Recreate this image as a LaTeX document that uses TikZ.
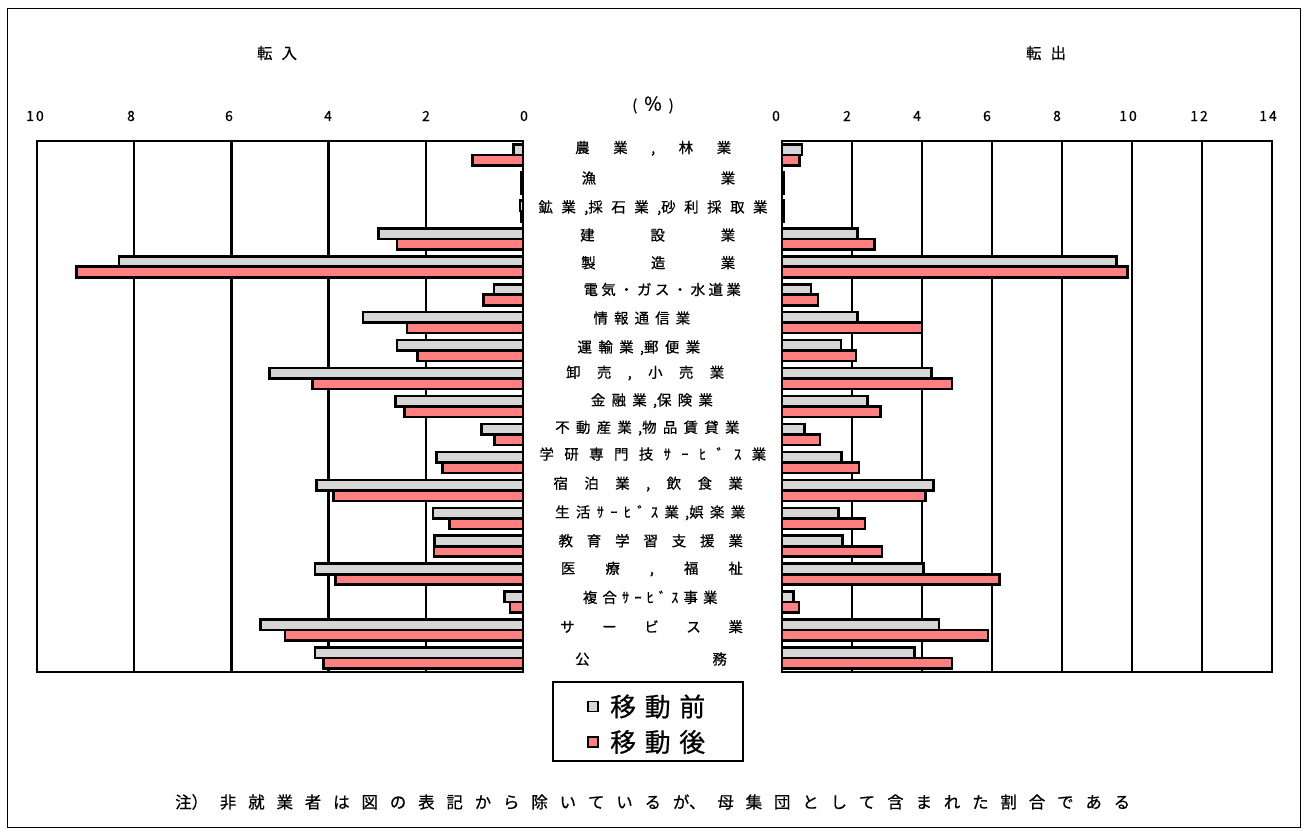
\documentclass[tikz,border=0pt]{standalone}
\usepackage{fontspec}
\setmainfont{Noto Sans CJK JP}[FakeBold=0.6]
\ExplSyntaxOn
\NewDocumentCommand\spreadbox{m m}{\makebox[#1][s]{\tl_map_inline:nn{#2}{##1\hfil}\unskip}}
\ExplSyntaxOff
\definecolor{pregray}{RGB}{214,214,214}
\definecolor{postred}{RGB}{255,128,128}
\tikzset{
  barpre/.style={draw=black, line width=2.6bp, fill=pregray},
  barpost/.style={draw=black, line width=2.6bp, fill=postred},
  gridline/.style={draw=black, line width=2.4bp},
  lab/.style={inner sep=0pt, anchor=west, font=\fontsize{14.5}{15}\selectfont},
  tick/.style={inner sep=0pt, anchor=center, font=\fontsize{14}{14}\selectfont},
  ttl/.style={inner sep=0pt, anchor=center, font=\fontsize{15.5}{16}\selectfont},
}
\begin{document}
\begin{tikzpicture}[x=1bp,y=-1bp]
\useasboundingbox (0,0) rectangle (1308,837);
\fill[white] (0,0) rectangle (1308,837);
\draw[line width=1.6bp] (7.5,8.5) rectangle (1300.5,827.5);

% titles
\node[ttl] (tin) at (277,53) {\spreadbox{40bp}{転入}};
\node[ttl] (tout) at (1046,53) {\spreadbox{40bp}{転出}};
\node[inner sep=0pt] (pct) at (653,105) {{\fontsize{15}{15}\selectfont (}\hspace{7bp}{\fontsize{19}{19}\selectfont\%}\hspace{7bp}{\fontsize{15}{15}\selectfont )}};

% tick labels left
\node[tick] (tl10) at (35,116) {1\kern2bp 0};
\node[tick] (tl8) at (131,116) {8};
\node[tick] (tl6) at (229,116) {6};
\node[tick] (tl4) at (328,116) {4};
\node[tick] (tl2) at (426,116) {2};
\node[tick] (tl0) at (524,116) {0};
% tick labels right
\node[tick] (tr0) at (776,116) {0};
\node[tick] (tr2) at (847,116) {2};
\node[tick] (tr4) at (917,116) {4};
\node[tick] (tr6) at (987,116) {6};
\node[tick] (tr8) at (1057,116) {8};
\node[tick] (tr10) at (1128,116) {1\kern2bp 0};
\node[tick] (tr12) at (1199,116) {1\kern2bp 2};
\node[tick] (tr14) at (1268,116) {1\kern2bp 4};

% grid lines
\foreach \v in {2,4,6,8} \draw[gridline] (523-\v*48.6,141) -- (523-\v*48.6,672);
\foreach \v in {2,4,6,8,10,12} \draw[gridline] (782+\v*35,141) -- (782+\v*35,672);

% bars
\foreach \pa/\pb/\qa/\qb [count=\i] in {
 0.19/1.04/0.57/0.50,
 0.03/0.04/0.04/0.04,
 0.06/0.04/0.05/0.04,
 2.97/2.59/2.16/2.64,
 8.31/9.19/9.55/9.87,
 0.60/0.81/0.83/1.03,
 3.29/2.39/2.16/4.00,
 2.59/2.17/1.68/2.11,
 5.22/4.33/4.27/4.86,
 2.62/2.44/2.44/2.82,
 0.85/0.59/0.64/1.08,
 1.78/1.66/1.70/2.20,
 4.25/3.90/4.33/4.10,
 1.85/1.51/1.61/2.37,
 1.82/1.83/1.73/2.86,
 4.28/3.86/4.05/6.21,
 0.38/0.27/0.32/0.48,
 5.40/4.90/4.48/5.89,
 4.28/4.10/3.79/4.86}{
  \pgfmathsetmacro\cy{141+(\i-0.5)*27.95}
  \draw[barpre] (523-\pa*48.6,\cy-10.5) rectangle (523,\cy);
  \draw[barpost] (523-\pb*48.6,\cy) rectangle (523,\cy+10.5);
  \draw[barpre] (782,\cy-10.5) rectangle (782+\qa*35,\cy);
  \draw[barpost] (782,\cy) rectangle (782+\qb*35,\cy+10.5);
}

% frames
\draw[gridline] (37,141) rectangle (523,672);
\draw[gridline] (782,141) rectangle (1272,672);

% category labels
\node[lab] (c1) at (575,148.3) {\spreadbox{156bp}{農業,林業}};
\node[lab] (c2) at (581.5,178) {\spreadbox{153.5bp}{漁業}};
\node[lab] (c3) at (538.3,207.7) {\spreadbox{229bp}{鉱業{,採}石業{,砂}利採取業}};
\node[lab] (c4) at (580,235) {\spreadbox{155bp}{建設業}};
\node[lab] (c5) at (581,262.7) {\spreadbox{154bp}{製造業}};
\node[lab] (c6) at (583.3,289.5) {\spreadbox{157.4bp}{電気・ガス・水道業}};
\node[lab] (c7) at (593.3,318) {\spreadbox{96.7bp}{情報通信業}};
\node[lab] (c8) at (577.3,347.7) {\spreadbox{122.7bp}{運輸業{,郵}便業}};
\node[lab] (c9) at (566,373) {\spreadbox{158bp}{卸売,小売業}};
\node[lab] (c10) at (590.7,400.7) {\spreadbox{122bp}{金融業{,保}険業}};
\node[lab] (c11) at (555,428) {\spreadbox{184.3bp}{不動産業{,物}品賃貸業}};
\node[lab] (c12) at (539.3,454) {\spreadbox{226.7bp}{学研専門技ｻｰﾋﾞｽ業}};
\node[lab] (c13) at (553.3,484) {\spreadbox{189.4bp}{宿泊業,飲食業}};
\node[lab] (c14) at (555,512.7) {\spreadbox{190bp}{生活ｻｰﾋﾞｽ業{,娯}楽業}};
\node[lab] (c15) at (558.3,540.7) {\spreadbox{184.4bp}{教育学習支援業}};
\node[lab] (c16) at (560.7,569) {\spreadbox{182bp}{医療,福祉}};
\node[lab] (c17) at (582.7,597.3) {\spreadbox{134.6bp}{複合ｻｰﾋﾞｽ事業}};
\node[lab] (c18) at (560,626.7) {\spreadbox{182.7bp}{サービス業}};
\node[lab] (c19) at (575,659) {\spreadbox{151.7bp}{公務}};

% legend
\node[draw=black, line width=1.6bp, minimum width=190bp, minimum height=79bp, inner sep=0pt] (legend) at (648,721.5) {};
\draw[barpre, line width=1.8bp] (588,701.5) rectangle (598,711.5);
\node[inner sep=0pt, anchor=west, font=\fontsize{26}{26}\selectfont] (legpre) at (610,706.5) {\spreadbox{95bp}{移動前}};
\draw[barpost, line width=1.8bp] (588,737) rectangle (598,747);
\node[inner sep=0pt, anchor=west, font=\fontsize{26}{26}\selectfont] (legpost) at (610,742) {\spreadbox{95bp}{移動後}};

% note
\node[inner sep=0pt, anchor=west, font=\fontsize{16.5}{17}\selectfont] (note) at (175,802) {\spreadbox{955bp}{{注）}非就業者は図の表記から除いている{が、}母集団として含まれた割合である}};
\end{tikzpicture}
\end{document}
